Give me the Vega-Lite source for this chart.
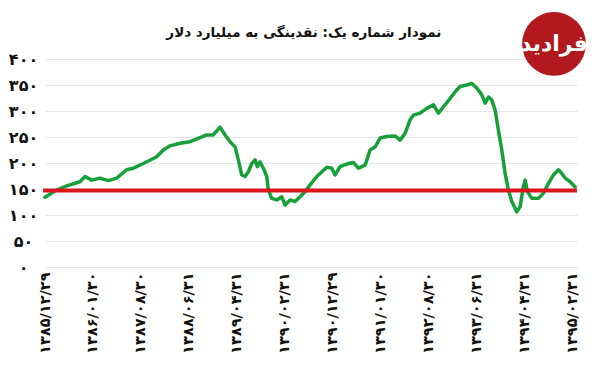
{
  "$schema": "https://vega.github.io/schema/vega-lite/v6.json",
  "width": 532,
  "height": 208,
  "autosize": {"type": "none"},
  "padding": {"left": 45, "top": 59, "right": 23, "bottom": 110},
  "background": "white",
  "config": {
    "view": {"stroke": null},
    "font": "DejaVu Sans",
    "axisX": {
      "labelAngle": 270, "labelFontSize": 14.5, "labelFontWeight": "bold", "labelColor": "#111111",
      "labelPadding": 5, "labelFlush": false, "labelOverlap": false, "grid": false, "ticks": false,
      "tickSize": 0, "domain": false, "title": null
    },
    "axisY": {
      "labelAlign": "center", "labelPadding": 22, "labelFontSize": 16, "labelFontWeight": "bold",
      "labelColor": "#111111", "labelFlush": false, "labelOverlap": false, "grid": true,
      "gridColor": "#e6e6e6", "gridWidth": 1, "ticks": false, "tickSize": 0, "domain": false, "title": null
    }
  },
  "datasets": {
    "series": [
      {"m": 0, "v": 134}, {"m": 2.44, "v": 148}, {"m": 4.53, "v": 156}, {"m": 7.3, "v": 164},
      {"m": 8.35, "v": 174}, {"m": 9.75, "v": 167}, {"m": 11.48, "v": 171}, {"m": 13.21, "v": 166},
      {"m": 14.96, "v": 171}, {"m": 17.05, "v": 187}, {"m": 18.43, "v": 190}, {"m": 20.52, "v": 199},
      {"m": 23.31, "v": 212}, {"m": 24.69, "v": 225}, {"m": 26.09, "v": 233}, {"m": 28.17, "v": 238},
      {"m": 30.26, "v": 241}, {"m": 32.35, "v": 249}, {"m": 33.75, "v": 254}, {"m": 35.12, "v": 254},
      {"m": 36.52, "v": 269}, {"m": 37.57, "v": 254}, {"m": 38.61, "v": 241}, {"m": 39.66, "v": 231},
      {"m": 40.34, "v": 206}, {"m": 41.05, "v": 177}, {"m": 41.74, "v": 174}, {"m": 42.43, "v": 183},
      {"m": 43.14, "v": 199}, {"m": 43.83, "v": 206}, {"m": 44.31, "v": 193}, {"m": 44.87, "v": 202},
      {"m": 45.56, "v": 190}, {"m": 46.27, "v": 174}, {"m": 46.6, "v": 148}, {"m": 47.31, "v": 132},
      {"m": 48.36, "v": 129}, {"m": 49.4, "v": 135}, {"m": 50.09, "v": 119}, {"m": 51.13, "v": 129},
      {"m": 52.18, "v": 126}, {"m": 53.22, "v": 135}, {"m": 54.26, "v": 145}, {"m": 55.31, "v": 158},
      {"m": 56.7, "v": 174}, {"m": 57.39, "v": 180}, {"m": 58.79, "v": 192}, {"m": 59.83, "v": 190},
      {"m": 60.52, "v": 177}, {"m": 61.57, "v": 193}, {"m": 62.96, "v": 198}, {"m": 64.34, "v": 201},
      {"m": 65.39, "v": 190}, {"m": 66.79, "v": 196}, {"m": 67.83, "v": 225}, {"m": 68.87, "v": 231},
      {"m": 69.91, "v": 248}, {"m": 71.31, "v": 251}, {"m": 73.04, "v": 252}, {"m": 74.09, "v": 244},
      {"m": 75.13, "v": 257}, {"m": 76.17, "v": 283}, {"m": 76.86, "v": 292}, {"m": 78.26, "v": 296},
      {"m": 79.66, "v": 305}, {"m": 81.04, "v": 312}, {"m": 82.08, "v": 296}, {"m": 83.13, "v": 308},
      {"m": 84.52, "v": 324}, {"m": 85.57, "v": 337}, {"m": 86.61, "v": 347}, {"m": 88.01, "v": 350},
      {"m": 89.05, "v": 353}, {"m": 90.1, "v": 344}, {"m": 91.14, "v": 331}, {"m": 91.83, "v": 315},
      {"m": 92.52, "v": 327}, {"m": 93.23, "v": 321}, {"m": 93.92, "v": 302}, {"m": 94.6, "v": 263},
      {"m": 95.31, "v": 225}, {"m": 96.0, "v": 180}, {"m": 96.69, "v": 148}, {"m": 97.4, "v": 126},
      {"m": 98.44, "v": 106}, {"m": 99.13, "v": 116}, {"m": 99.82, "v": 155}, {"m": 100.18, "v": 167},
      {"m": 100.66, "v": 145}, {"m": 101.57, "v": 132}, {"m": 102.95, "v": 132}, {"m": 103.99, "v": 142},
      {"m": 105.04, "v": 161}, {"m": 106.08, "v": 177}, {"m": 107.13, "v": 187}, {"m": 107.83, "v": 180},
      {"m": 108.52, "v": 171}, {"m": 109.57, "v": 164}, {"m": 110.61, "v": 154}
    ],
    "ref": [{"m0": -0.4, "m1": 111, "v": 147}],
    "logo": [{"name": "فرادید"}],
    "title": [{"text": "نمودار شماره یک: نقدینگی به میلیارد دلار"}]
  },
  "layer": [
    {
      "data": {"name": "series"},
      "mark": {"type": "line", "color": "#17a03a", "strokeWidth": 3.5, "strokeJoin": "round", "strokeCap": "round"},
      "encoding": {
        "x": {
          "field": "m", "type": "quantitative",
          "scale": {"domain": [0, 111], "nice": false, "zero": false},
          "axis": {
            "values": [0, 10, 20, 30, 40, 50, 60, 70, 80, 90, 100, 110],
            "labelExpr": "['۱۳۸۵/۱۲/۲۹','۱۳۸۶/۰۱/۳۰','۱۳۸۷/۰۸/۳۰','۱۳۸۸/۰۶/۳۱','۱۳۸۹/۰۴/۳۱','۱۳۹۰/۰۲/۳۱','۱۳۹۰/۱۲/۲۹','۱۳۹۱/۰۱/۳۰','۱۳۹۲/۰۸/۳۰','۱۳۹۳/۰۶/۳۱','۱۳۹۴/۰۴/۳۱','۱۳۹۵/۰۲/۳۱'][round(datum.value/10)]"
          }
        },
        "y": {
          "field": "v", "type": "quantitative",
          "scale": {"domain": [0, 400], "nice": false},
          "axis": {
            "values": [0, 50, 100, 150, 200, 250, 300, 350, 400],
            "labelExpr": "['۰','۵۰','۱۰۰','۱۵۰','۲۰۰','۲۵۰','۳۰۰','۳۵۰','۴۰۰'][round(datum.value/50)]"
          }
        }
      }
    },
    {
      "data": {"name": "ref"},
      "mark": {"type": "rule", "color": "#d8161c", "strokeWidth": 4},
      "encoding": {
        "x": {
          "field": "m0", "type": "quantitative",
          "scale": {"domain": [0, 111], "nice": false, "zero": false},
          "axis": {
            "values": [0, 10, 20, 30, 40, 50, 60, 70, 80, 90, 100, 110],
            "labelExpr": "['۱۳۸۵/۱۲/۲۹','۱۳۸۶/۰۱/۳۰','۱۳۸۷/۰۸/۳۰','۱۳۸۸/۰۶/۳۱','۱۳۸۹/۰۴/۳۱','۱۳۹۰/۰۲/۳۱','۱۳۹۰/۱۲/۲۹','۱۳۹۱/۰۱/۳۰','۱۳۹۲/۰۸/۳۰','۱۳۹۳/۰۶/۳۱','۱۳۹۴/۰۴/۳۱','۱۳۹۵/۰۲/۳۱'][round(datum.value/10)]"
          }
        },
        "x2": {"field": "m1"},
        "y": {
          "field": "v", "type": "quantitative",
          "scale": {"domain": [0, 400], "nice": false},
          "axis": {
            "values": [0, 50, 100, 150, 200, 250, 300, 350, 400],
            "labelExpr": "['۰','۵۰','۱۰۰','۱۵۰','۲۰۰','۲۵۰','۳۰۰','۳۵۰','۴۰۰'][round(datum.value/50)]"
          }
        }
      }
    },
    {
      "data": {"name": "logo"},
      "mark": {"type": "point", "shape": "circle", "filled": true, "color": "#b1191e", "opacity": 1, "size": 4070},
      "encoding": {
        "x": {
          "datum": 106.2, "type": "quantitative",
          "axis": {
            "values": [0, 10, 20, 30, 40, 50, 60, 70, 80, 90, 100, 110],
            "labelExpr": "['۱۳۸۵/۱۲/۲۹','۱۳۸۶/۰۱/۳۰','۱۳۸۷/۰۸/۳۰','۱۳۸۸/۰۶/۳۱','۱۳۸۹/۰۴/۳۱','۱۳۹۰/۰۲/۳۱','۱۳۹۰/۱۲/۲۹','۱۳۹۱/۰۱/۳۰','۱۳۹۲/۰۸/۳۰','۱۳۹۳/۰۶/۳۱','۱۳۹۴/۰۴/۳۱','۱۳۹۵/۰۲/۳۱'][round(datum.value/10)]"
          }
        },
        "y": {
          "datum": 429, "type": "quantitative",
          "axis": {
            "values": [0, 50, 100, 150, 200, 250, 300, 350, 400],
            "labelExpr": "['۰','۵۰','۱۰۰','۱۵۰','۲۰۰','۲۵۰','۳۰۰','۳۵۰','۴۰۰'][round(datum.value/50)]"
          }
        }
      }
    },
    {
      "data": {"name": "logo"},
      "mark": {"type": "text", "color": "white", "fontSize": 22, "fontWeight": "bold", "font": "DejaVu Sans"},
      "encoding": {
        "x": {
          "datum": 106.2, "type": "quantitative",
          "axis": {
            "values": [0, 10, 20, 30, 40, 50, 60, 70, 80, 90, 100, 110],
            "labelExpr": "['۱۳۸۵/۱۲/۲۹','۱۳۸۶/۰۱/۳۰','۱۳۸۷/۰۸/۳۰','۱۳۸۸/۰۶/۳۱','۱۳۸۹/۰۴/۳۱','۱۳۹۰/۰۲/۳۱','۱۳۹۰/۱۲/۲۹','۱۳۹۱/۰۱/۳۰','۱۳۹۲/۰۸/۳۰','۱۳۹۳/۰۶/۳۱','۱۳۹۴/۰۴/۳۱','۱۳۹۵/۰۲/۳۱'][round(datum.value/10)]"
          }
        },
        "y": {
          "datum": 429, "type": "quantitative",
          "axis": {
            "values": [0, 50, 100, 150, 200, 250, 300, 350, 400],
            "labelExpr": "['۰','۵۰','۱۰۰','۱۵۰','۲۰۰','۲۵۰','۳۰۰','۳۵۰','۴۰۰'][round(datum.value/50)]"
          }
        },
        "text": {"field": "name"}
      }
    },
    {
      "data": {"name": "title"},
      "mark": {"type": "text", "color": "#111111", "fontSize": 13.5, "fontWeight": "bold", "font": "DejaVu Sans", "baseline": "alphabetic", "align": "center"},
      "encoding": {
        "x": {
          "datum": 54, "type": "quantitative",
          "axis": {
            "values": [0, 10, 20, 30, 40, 50, 60, 70, 80, 90, 100, 110],
            "labelExpr": "['۱۳۸۵/۱۲/۲۹','۱۳۸۶/۰۱/۳۰','۱۳۸۷/۰۸/۳۰','۱۳۸۸/۰۶/۳۱','۱۳۸۹/۰۴/۳۱','۱۳۹۰/۰۲/۳۱','۱۳۹۰/۱۲/۲۹','۱۳۹۱/۰۱/۳۰','۱۳۹۲/۰۸/۳۰','۱۳۹۳/۰۶/۳۱','۱۳۹۴/۰۴/۳۱','۱۳۹۵/۰۲/۳۱'][round(datum.value/10)]"
          }
        },
        "y": {
          "datum": 443, "type": "quantitative",
          "axis": {
            "values": [0, 50, 100, 150, 200, 250, 300, 350, 400],
            "labelExpr": "['۰','۵۰','۱۰۰','۱۵۰','۲۰۰','۲۵۰','۳۰۰','۳۵۰','۴۰۰'][round(datum.value/50)]"
          }
        },
        "text": {"field": "text"}
      }
    }
  ]
}
